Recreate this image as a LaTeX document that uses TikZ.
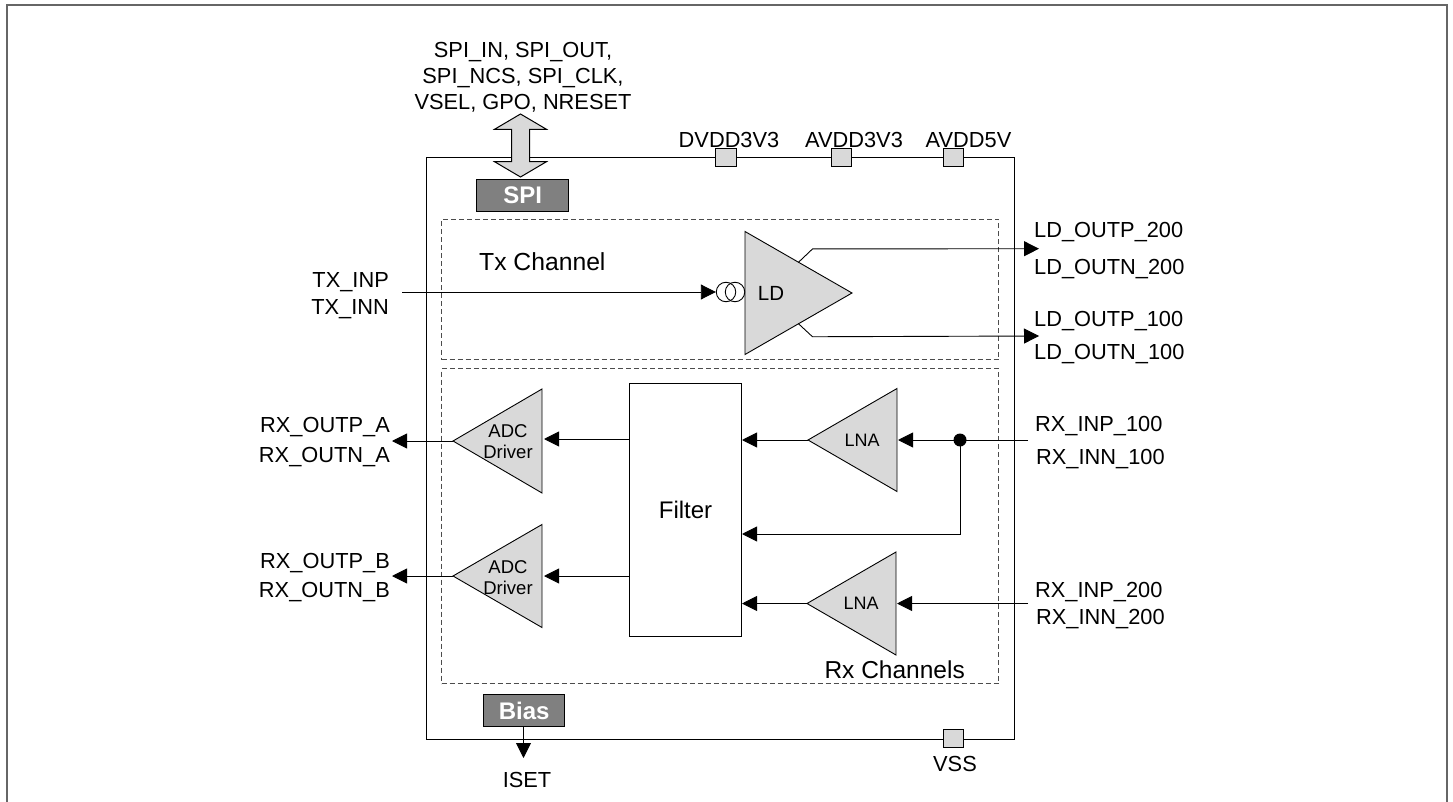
\documentclass[tikz,border=0pt]{standalone}
\usepackage{fontspec}
\setmainfont{Liberation Sans}
\usetikzlibrary{arrows.meta,shapes.geometric,shapes.arrows}
\definecolor{amp}{gray}{.85}
\definecolor{dark}{gray}{.5}
\tikzset{
  sig/.style={line width=.9pt,-{Triangle[length=15pt,width=15pt]}},
  lbl/.style={font=\fontsize{21.8}{26}\selectfont,inner sep=0pt},
  pad/.style={draw,line width=1pt,fill=amp,minimum width=20.5pt,minimum height=18pt,inner sep=0pt},
  ctrl/.style={draw,line width=1.2pt,fill=dark,text=white,font=\fontsize{24}{26}\selectfont\bfseries,inner sep=0pt},
  amp/.style={draw,line width=.9pt,fill=amp,isosceles triangle,isosceles triangle stretches,inner sep=0pt,outer sep=0pt,anchor=apex,align=center},
  channel/.style={line width=1pt,dash pattern=on 5pt off 3pt,draw=black!70},
}
\begin{document}
\begin{tikzpicture}[x=1pt,y=-1pt]
  \useasboundingbox (0,0) rectangle (1453,802);
  % page frame, open at the bottom
  \draw[line width=2pt,black!60] (7,802) -- (7,5) -- (1447,5) -- (1447,802);
  % chip and channels
  \node (chip) [draw,line width=1pt,minimum width=587.5pt,minimum height=581.5pt,inner sep=0pt,anchor=north west] at (426,157) {};
  \node (txch) [draw,channel,minimum width=557pt,minimum height=140pt,inner sep=0pt,anchor=north west] at (441,219) {};
  \node (rxch) [draw,channel,minimum width=557pt,minimum height=315pt,inner sep=0pt,anchor=north west] at (441,368) {};
  \node (txname) [lbl,font=\fontsize{24.7}{28}\selectfont,anchor=west] at (479,262) {Tx Channel};
  \node (rxname) [lbl,font=\fontsize{24.5}{28}\selectfont,anchor=east] at (965,670) {Rx Channels};
  % control blocks
  \node (spi) [ctrl,minimum width=92pt,minimum height=32pt,anchor=north west] at (476,179) {SPI};
  \node (bias) [ctrl,minimum width=81pt,minimum height=32pt,anchor=north west] at (483,694) {Bias};
  \node (spibus) [draw,line width=1pt,fill=amp,double arrow,rotate=90,double arrow tip angle=119,double arrow head extend=17pt,text height=17pt,text depth=0pt,minimum height=63pt,inner sep=0pt] at (520.5,145.5) {};
  \node (spipins) [lbl,align=center] at (523,77) {SPI\_IN, SPI\_OUT,\\SPI\_NCS, SPI\_CLK,\\VSEL, GPO, NRESET};
  % supply pads
  \node (dvdd) [pad] at (726,158) {};
  \node (avdd) [pad] at (841.5,158) {};
  \node (avddf) [pad] at (953.5,158) {};
  \node (vss) [pad] at (953.5,738.5) {};
  \node (dvddl) [lbl] at (729,140) {DVDD3V3};
  \node (avddl) [lbl] at (854,140) {AVDD3V3};
  \node (avddfl) [lbl] at (968.5,140) {AVDD5V};
  \node (vssl) [lbl] at (955,764) {VSS};
  \node (isetl) [lbl] at (527,780) {ISET};
  % amplifiers
  \node (ld) [amp,minimum height=107pt,minimum width=123pt] at (852,293) {};
  \node (ldl) [lbl,font=\fontsize{20.5}{22}\selectfont] at (771,293) {LD};
  \node (cs1) [draw,circle,line width=.9pt,minimum size=19.5pt,inner sep=0pt] at (726,292) {};
  \node (cs2) [draw,circle,line width=.9pt,minimum size=19.5pt,inner sep=0pt] at (735,292) {};
  \node (lnaa) [amp,shape border rotate=180,minimum height=89pt,minimum width=103pt] at (808,440) {};
  \node (lnab) [amp,shape border rotate=180,minimum height=89pt,minimum width=103pt] at (807,603.5) {};
  \node (adca) [amp,shape border rotate=180,minimum height=89pt,minimum width=104pt] at (453,441) {};
  \node (adcb) [amp,shape border rotate=180,minimum height=89pt,minimum width=103pt] at (453,576) {};
  \node (lnaal) [lbl,font=\fontsize{18}{22}\selectfont] at (862,440) {LNA};
  \node (lnabl) [lbl,font=\fontsize{18}{22}\selectfont] at (861,603) {LNA};
  \node (adcal) [lbl,font=\fontsize{18.5}{21}\selectfont,align=center] at (508,442) {ADC\\Driver};
  \node (adcbl) [lbl,font=\fontsize{18.5}{21}\selectfont,align=center] at (508,578) {ADC\\Driver};
  \node (filter) [draw,line width=1pt,minimum width=112pt,minimum height=253pt,inner sep=0pt,font=\fontsize{24}{26}\selectfont,anchor=north west] at (629,383) {Filter};
  % pin names
  \node (txp) [lbl,anchor=east] at (389,282) {TX\_INP};
  \node (txn) [lbl,anchor=east] at (389,309) {TX\_INN};
  \node (ldp2) [lbl,anchor=west] at (1034,232) {LD\_OUTP\_200};
  \node (ldn2) [lbl,anchor=west] at (1034,269) {LD\_OUTN\_200};
  \node (ldp1) [lbl,anchor=west] at (1034,321) {LD\_OUTP\_100};
  \node (ldn1) [lbl,anchor=west] at (1034,354) {LD\_OUTN\_100};
  \node (rxpa) [lbl,anchor=east] at (390,427) {RX\_OUTP\_A};
  \node (rxna) [lbl,anchor=east] at (390,457) {RX\_OUTN\_A};
  \node (rxpb) [lbl,anchor=east] at (390,563) {RX\_OUTP\_B};
  \node (rxnb) [lbl,anchor=east] at (390,592) {RX\_OUTN\_B};
  \node (rxp1) [lbl,anchor=west] at (1035,426) {RX\_INP\_100};
  \node (rxn1) [lbl,anchor=west] at (1036,459) {RX\_INN\_100};
  \node (rxp2) [lbl,anchor=west] at (1035,592) {RX\_INP\_200};
  \node (rxn2) [lbl,anchor=west] at (1036,619) {RX\_INN\_200};
  % free ends
  \coordinate (txin) at (402,292);
  \coordinate (ldtop) at (1039,248.7);
  \coordinate (ldbot) at (1039,336);
  \coordinate (outa) at (392,441);
  \coordinate (outb) at (392,576);
  \coordinate (ina) at (1028,440);
  \coordinate (inb) at (1028,603.5);
  \coordinate (isetend) at (523.5,758);
  % connectors
  \draw[sig] (txin) -- (cs1.west);
  \draw[sig] (ld.left side) -- ++(14,-13.3) -- (ldtop);
  \draw[sig] (ld.right side) -- ++(14,13) -- (ldbot);
  \draw[sig] (adca.apex) -- (outa);
  \draw[sig] (adcb.apex) -- (outb);
  \draw[sig] (filter.west |- 0,439) -- ([xshift=2pt]adca.lower side |- 0,439);
  \draw[sig] (filter.west |- 0,576) -- ([xshift=2pt]adcb.lower side |- 0,576);
  \draw[sig] (lnaa.apex) -- (filter.east |- lnaa.apex);
  \draw[sig] (lnab.apex) -- (filter.east |- lnab.apex);
  \draw[sig] (ina) -- ([xshift=1pt]lnaa.lower side);
  \draw[sig] (inb) -- ([xshift=1pt]lnab.lower side);
  \node (tap) [circle,fill,minimum size=13pt,inner sep=0pt] at (960,440) {};
  \draw[sig] (tap.center) |- (filter.east |- 0,534);
  \draw[sig] (bias.south -| isetend) -- (isetend);
\end{tikzpicture}
\end{document}
